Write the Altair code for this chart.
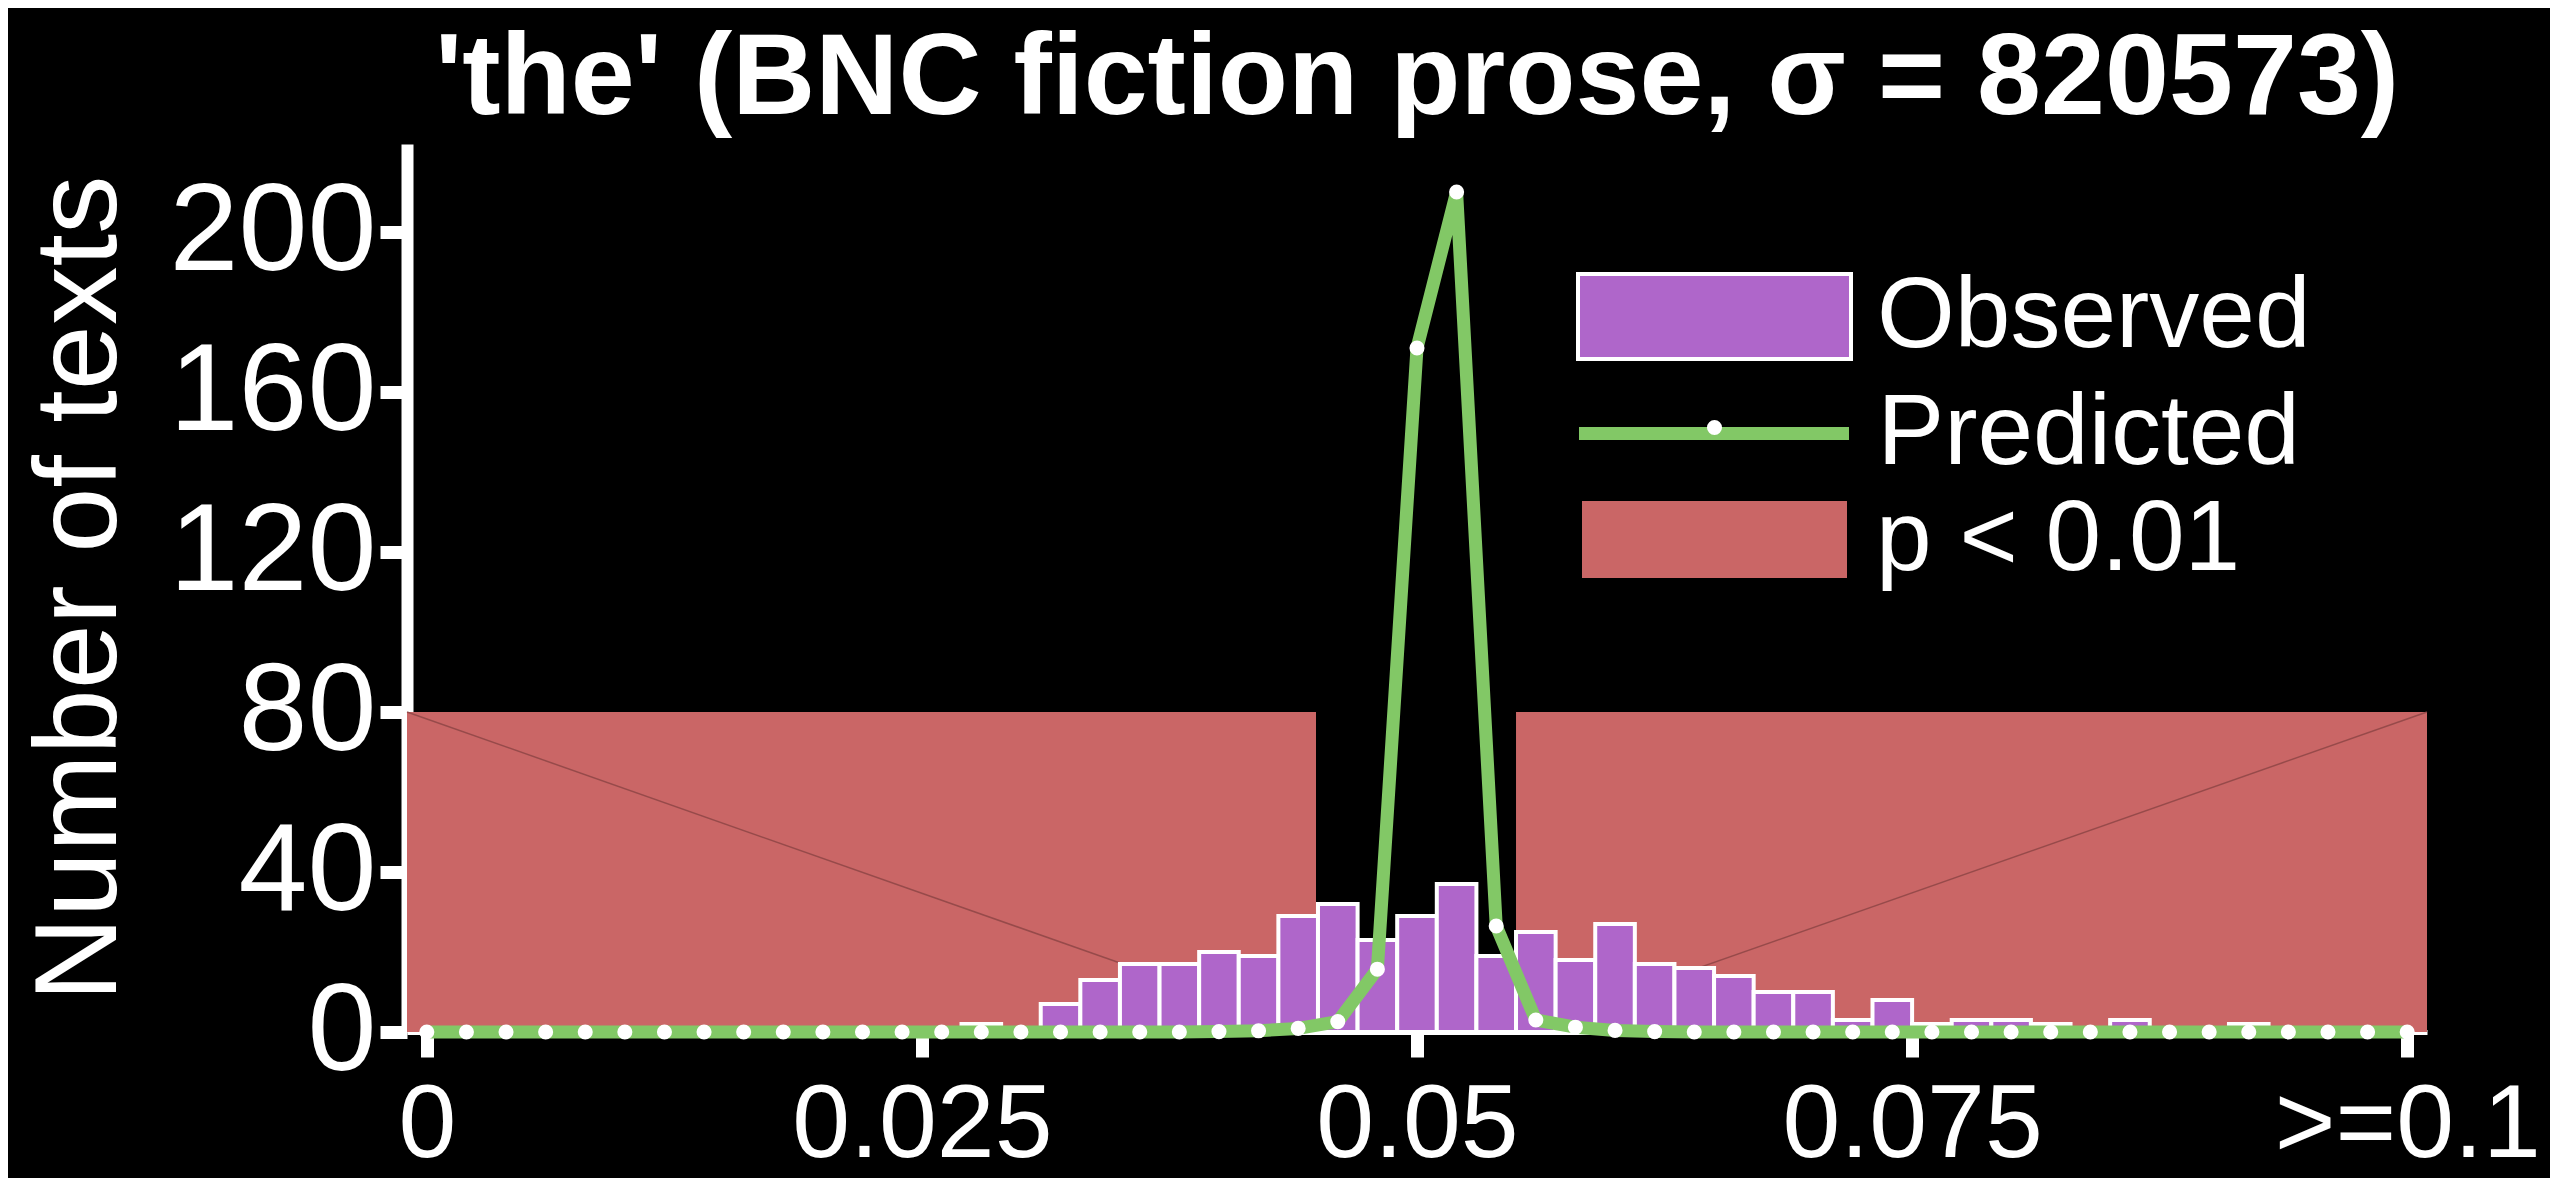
import altair as alt
import pandas as pd

FONT = "Liberation Sans"
PURPLE = "#AF66CA"
GREEN = "#82C866"
RED = "#CA6666"

# ---- data ----
BIN_WIDTH = 0.002
BIN_CENTERS = [0.000, 0.002, 0.004, 0.006, 0.008, 0.010, 0.012, 0.014, 0.016, 0.018,
               0.020, 0.022, 0.024, 0.026, 0.028, 0.030, 0.032, 0.034, 0.036, 0.038,
               0.040, 0.042, 0.044, 0.046, 0.048, 0.050, 0.052, 0.054, 0.056, 0.058,
               0.060, 0.062, 0.064, 0.066, 0.068, 0.070, 0.072, 0.074, 0.076, 0.078,
               0.080, 0.082, 0.084, 0.086, 0.088, 0.090, 0.092, 0.094, 0.096, 0.098,
               0.100]
OBSERVED = [0, 0, 0, 0, 0, 0, 0, 0, 0, 0,
            0, 0, 0, 0, 2, 1, 7, 13, 17, 17,
            20, 19, 29, 32, 23, 29, 37, 19, 25, 18,
            27, 17, 16, 14, 10, 10, 3, 8, 2, 3,
            3, 2, 1, 3, 1, 0, 2, 0, 0, 0,
            0]
PREDICTED = [0, 0, 0, 0, 0, 0, 0, 0, 0, 0,
             0, 0, 0, 0, 0, 0, 0, 0, 0, 0,
             0.1, 0.3, 0.9, 2.6, 15.7, 171, 210, 26.5, 3.0, 1.2,
             0.4, 0.1, 0, 0, 0, 0, 0, 0, 0, 0,
             0, 0, 0, 0, 0, 0, 0, 0, 0, 0,
             0]

P_REGION_START = [-0.001, 0.0550]
P_REGION_END = [0.0449, 0.101]
P_REGION_TOP = 80

X_DOMAIN = [-0.001, 0.101]
Y_DOMAIN = [0, 222]
X_TICKS = [0, 0.025, 0.05, 0.075, 0.1]
X_LABELS = ["0", "0.025", "0.05", "0.075", ">=0.1"]
Y_TICKS = [0, 40, 80, 120, 160, 200]

TITLE = "'the' (BNC fiction prose, \u03c3 = 820573)"
Y_TITLE = "Number of texts"

# ---- tables ----
bins = pd.DataFrame({"x": BIN_CENTERS, "observed": OBSERVED, "predicted": PREDICTED})
bins["x0"] = bins["x"] - BIN_WIDTH / 2
bins["x1"] = bins["x"] + BIN_WIDTH / 2
bins["zero"] = 0
bins["obs_label"] = "Observed"
bins["pred_label"] = "Predicted"
bins["dot_label"] = "Predicted marker"

regions = pd.DataFrame({"xs": P_REGION_START, "xe": P_REGION_END})
regions["y0"] = 0
regions["y1"] = P_REGION_TOP
regions["label"] = "p < 0.01"
# diagonal edge of each shaded polygon
diag = pd.DataFrame({
    "xa": P_REGION_START, "xb": P_REGION_END,
    "ya": [P_REGION_TOP, 0], "yb": [0, P_REGION_TOP],
})

label_expr = "''"
for v, lab in reversed(list(zip(X_TICKS, X_LABELS))):
    label_expr = f"abs(datum.value - {v}) < 1e-9 ? '{lab}' : ({label_expr})"

x_scale = alt.Scale(domain=X_DOMAIN, nice=False, zero=False)
y_scale = alt.Scale(domain=Y_DOMAIN, nice=False, zero=False)

x_axis = alt.Axis(
    values=X_TICKS, labelExpr=label_expr, title=None, grid=False,
    domainColor="white", domainWidth=5, tickColor="white", tickWidth=13, tickSize=25,
    labelColor="white", labelFont=FONT, labelFontSize=104, labelPadding=17,
    labelFlush=False, labelOverlap=False, labelBound=False, labelLimit=3000,
)
y_axis = alt.Axis(
    values=Y_TICKS, format="d", title=Y_TITLE, grid=False,
    domainColor="white", domainWidth=12, tickColor="white", tickWidth=13, tickSize=27,
    labelColor="white", labelFont=FONT, labelFontSize=124, labelPadding=4,
    labelOverlap=False, labelBound=False, labelFlush=False, labelLimit=3000,
    titleColor="white", titleFont=FONT, titleFontSize=117, titleFontWeight="normal",
    titleAngle=270, titleBaseline="alphabetic", titleAlign="center",
    titleX=-292, titleY=444, titleLimit=3000,
)

legend_common = dict(orient="none", title=None, padding=0, labelColor="white",
                     labelFont=FONT, labelFontSize=100, labelLimit=3000)

rect_obs_path = "M-1,-0.3114H1V0.3114H-1Z"
rect_p_path = "M-1,-0.2906H1V0.2906H-1Z"

red = alt.Chart(regions).mark_rect(opacity=1).encode(
    x=alt.X("xs:Q", scale=x_scale, axis=x_axis),
    x2="xe:Q",
    y=alt.Y("y0:Q", scale=y_scale, axis=y_axis),
    y2="y1:Q",
    color=alt.Color("label:N", scale=alt.Scale(domain=["p < 0.01"], range=[RED]),
                    legend=alt.Legend(legendX=1175, legendY=263, symbolType=rect_p_path,
                                      symbolSize=265 ** 2, symbolStrokeWidth=0,
                                      symbolOpacity=1, labelOffset=29, **legend_common)),
)

diag_lines = alt.Chart(diag).mark_rule(color="#8a4444", strokeWidth=1.5, opacity=0.8).encode(
    x=alt.X("xa:Q", scale=x_scale, axis=x_axis),
    x2="xb:Q",
    y=alt.Y("ya:Q", scale=y_scale, axis=y_axis),
    y2="yb:Q",
)

bars = alt.Chart(bins).transform_filter("datum.observed > 0").mark_rect(
    stroke="white", strokeWidth=4, opacity=1
).encode(
    x=alt.X("x0:Q", scale=x_scale, axis=x_axis),
    x2="x1:Q",
    y=alt.Y("observed:Q", scale=y_scale, axis=y_axis),
    y2="zero:Q",
    fill=alt.Fill("obs_label:N", scale=alt.Scale(domain=["Observed"], range=[PURPLE]),
                  legend=alt.Legend(legendX=1169, legendY=34, symbolType=rect_obs_path,
                                    symbolSize=273 ** 2, symbolStrokeColor="white",
                                    symbolStrokeWidth=4, symbolOpacity=1, labelOffset=24,
                                    **legend_common)),
)

line = alt.Chart(bins).mark_line(strokeWidth=13, strokeJoin="round").encode(
    x=alt.X("x:Q", scale=x_scale, axis=x_axis),
    y=alt.Y("predicted:Q", scale=y_scale, axis=y_axis),
    stroke=alt.Stroke("pred_label:N", scale=alt.Scale(domain=["Predicted"], range=[GREEN]),
                      legend=alt.Legend(legendX=1165.5, legendY=148, symbolType="stroke",
                                        symbolSize=270 ** 2, symbolStrokeWidth=13,
                                        labelOffset=22, **legend_common)),
)

dots = alt.Chart(bins).mark_point(filled=True, color="white", size=227, opacity=1).encode(
    x=alt.X("x:Q", scale=x_scale, axis=x_axis),
    y=alt.Y("predicted:Q", scale=y_scale, axis=y_axis),
    shape=alt.Shape("dot_label:N", scale=alt.Scale(domain=["Predicted marker"], range=["circle"]),
                    legend=alt.Legend(orient="none", title=None, padding=0,
                                      legendX=1299.5, legendY=275.5, symbolSize=227,
                                      symbolFillColor="white", symbolStrokeWidth=0,
                                      symbolOpacity=1, labelExpr="''", labelFontSize=1)),
)

chart = alt.layer(red, diag_lines, bars, line, dots).resolve_legend(
    color="independent", fill="independent", stroke="independent", shape="independent"
).properties(
    width=2020,
    height=888,
    padding={"left": 399, "top": 136, "right": 123, "bottom": 146},
    autosize=alt.AutoSizeParams(type="none"),
    background="black",
    title=alt.TitleParams(TITLE, font=FONT, fontSize=115, fontWeight="bold", color="white",
                          anchor="middle", offset=6),
).configure_view(stroke=None)

chart.save("out.html", embed_options={"renderer": "svg", "actions": False})
